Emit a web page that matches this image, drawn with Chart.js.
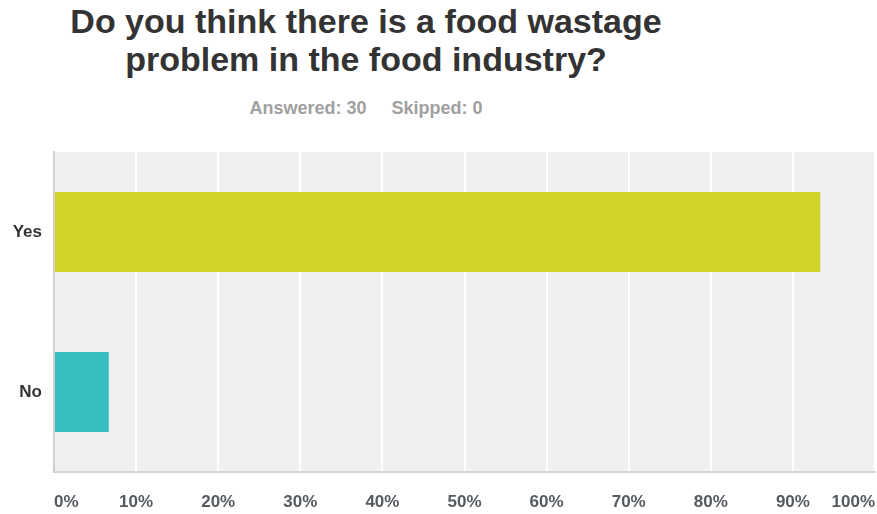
<!DOCTYPE html>
<html>
<head>
<meta charset="utf-8">
<script src="https://cdn.jsdelivr.net/npm/chart.js@4/dist/chart.umd.min.js"></script>
<style>
  html, body { margin:0; padding:0; background:#fff; }
  #wrap { position:relative; width:877px; height:514px; overflow:hidden; }
  #title { position:absolute; left:0; width:732px; top:2px; text-align:center;
           font-family:"Liberation Sans", Arial, sans-serif; font-weight:bold; font-size:34px;
           line-height:38px; color:#333; }
  #sub { position:absolute; left:0; width:732px; top:98px; text-align:center;
         font-family:"Liberation Sans", Arial, sans-serif; font-weight:bold; font-size:18px;
         color:#a0a0a0; }
  canvas { position:absolute; left:0; top:0; }
</style>
</head>
<body>
<div id="wrap">
  <div id="title">Do you think there is a food wastage<br>problem in the food industry?</div>
  <div id="sub">Answered: 30&nbsp;&nbsp;&nbsp;&nbsp;&nbsp;Skipped: 0</div>
  <canvas id="c" width="877" height="514"></canvas>
</div>
<script>
const categories = ["Yes", "No"];
const percentages = [93.33, 6.67];
const barColors = ["#cfd427", "#34bec0"];
const tickValues = [0,10,20,30,40,50,60,70,80,90,100];

const plotBg = {
  id: 'plotBg',
  beforeDraw(chart) {
    const {ctx, chartArea:a} = chart;
    ctx.save();
    ctx.fillStyle = '#f0f0f0';
    ctx.fillRect(a.left, a.top, a.right - a.left, a.bottom - a.top);
    ctx.restore();
  }
};

new Chart(document.getElementById('c'), {
  type: 'bar',
  data: {
    labels: categories,
    datasets: [{
      data: percentages,
      backgroundColor: barColors,
      borderWidth: 0,
      categoryPercentage: 1,
      barPercentage: 0.5
    }]
  },
  options: {
    indexAxis: 'y',
    responsive: false,
    animation: false,
    layout: { padding: { top: 152, right: 2, left: 0, bottom: 0 } },
    plugins: { legend: { display:false }, tooltip: { enabled:false }, title: { display:false } },
    scales: {
      x: {
        min: 0, max: 100,
        afterBuildTicks(scale) { scale.ticks = tickValues.map(v => ({ value: v })); },
        afterFit(scale) { scale.height = 42; scale.paddingLeft = 0; scale.paddingRight = 0; },
        grid: { color: '#ffffff', lineWidth: 2, drawTicks: false },
        border: { display: true, color: '#d6d6d6', width: 2 },
        ticks: {
          align: 'inner',
          padding: 20,
          color: '#555a60',
          font: { family: '"Liberation Sans", Arial, sans-serif', size: 17, weight: 'bold' },
          callback: v => v + '%'
        }
      },
      y: {
        afterFit(scale) { scale.width = 54; },
        grid: { display: false, drawTicks: false },
        border: { display: true, color: '#cfcfcf', width: 2 },
        ticks: {
          padding: 12,
          color: '#333333',
          font: { family: '"Liberation Sans", Arial, sans-serif', size: 17, weight: 'bold' }
        }
      }
    }
  },
  plugins: [plotBg]
});
</script>
</body>
</html>
